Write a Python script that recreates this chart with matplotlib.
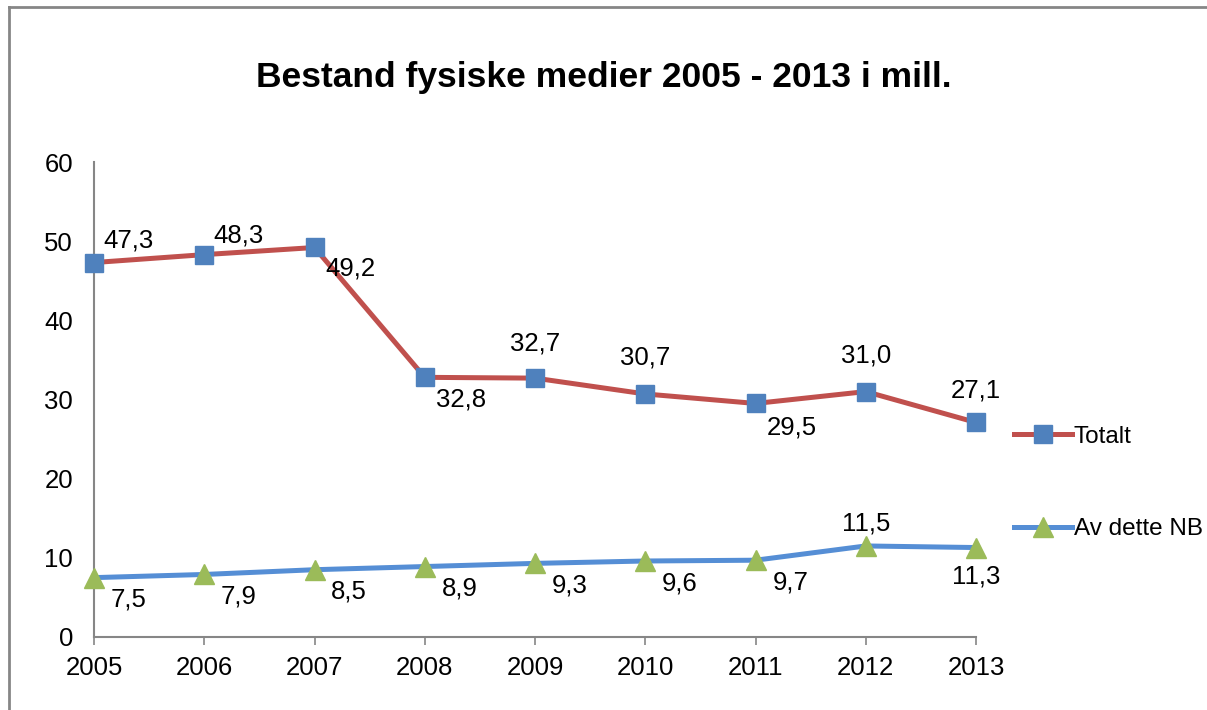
import matplotlib.pyplot as plt
from matplotlib.lines import Line2D

plt.rcParams['font.family'] = ['Liberation Sans', 'DejaVu Sans']

years = [2005, 2006, 2007, 2008, 2009, 2010, 2011, 2012, 2013]
totalt = [47.3, 48.3, 49.2, 32.8, 32.7, 30.7, 29.5, 31.0, 27.1]
nb = [7.5, 7.9, 8.5, 8.9, 9.3, 9.6, 9.7, 11.5, 11.3]
# label offsets in points (dx, dy)
tot_off = [(25, 16), (25, 14), (26, -15), (26, -16), (0, 25), (0, 26), (26, -17), (0, 26), (0, 23)]
nb_off = [(25, -16), (25, -16), (25, -16), (25, -16), (25, -16), (25, -16), (25, -16), (0, 16), (0, -21)]

fig = plt.figure(figsize=(12.07, 7.10), dpi=100)
ax = fig.add_axes([94 / 1207, 1 - 637 / 710, (976 - 94) / 1207, (637 - 162) / 710])

ax.plot(years, totalt, color='#C0504D', lw=3.6, marker='s', ms=13,
        mfc='#4F81BD', mec='#4F81BD', label='Totalt', zorder=3, clip_on=False)
ax.plot(years, nb, color='#558ED5', lw=3.6, marker='^', ms=15,
        mfc='#9BBB59', mec='#9BBB59', label='Av dette NB', zorder=3, clip_on=False)

def fmt(v):
    return ('%.1f' % v).replace('.', ',')

for x, v, (dx, dy) in zip(years, totalt, tot_off):
    ax.annotate(fmt(v), (x, v), xytext=(dx, dy), textcoords='offset points',
                ha='center', va='center', fontsize=18.5)
for x, v, (dx, dy) in zip(years, nb, nb_off):
    ax.annotate(fmt(v), (x, v), xytext=(dx, dy), textcoords='offset points',
                ha='center', va='center', fontsize=18.5)

ax.set_xlim(2005, 2013)
ax.set_ylim(0, 60)
ax.set_xticks(years)
ax.set_yticks(range(0, 61, 10))
ax.tick_params(axis='x', length=6, width=1.2, color='#868686', labelsize=18.5, pad=8)
ax.tick_params(axis='y', length=0, labelsize=18.5, pad=15)
for s in ['top', 'right']:
    ax.spines[s].set_visible(False)
for s in ['left', 'bottom']:
    ax.spines[s].set_color('#868686')
    ax.spines[s].set_linewidth(1.5)

fig.text(0.5, 1 - 78 / 710, 'Bestand fysiske medier 2005 - 2013 i mill.',
         ha='center', va='center', fontsize=25.5, fontweight='bold')

ax.legend(loc='center left', bbox_to_anchor=(1014 / 1207, 1 - 483 / 710),
          bbox_transform=fig.transFigure, frameon=False, fontsize=17.5,
          handlelength=2.4, handletextpad=0.05, labelspacing=2.9, borderpad=0,
          borderaxespad=0)

fig.add_artist(Line2D([9 / 1207, 9 / 1207], [0, 1 - 7 / 710], color='#868686', lw=2))
fig.add_artist(Line2D([9 / 1207, 1], [1 - 7 / 710, 1 - 7 / 710], color='#868686', lw=2))

fig.savefig('out.png', dpi=100)
